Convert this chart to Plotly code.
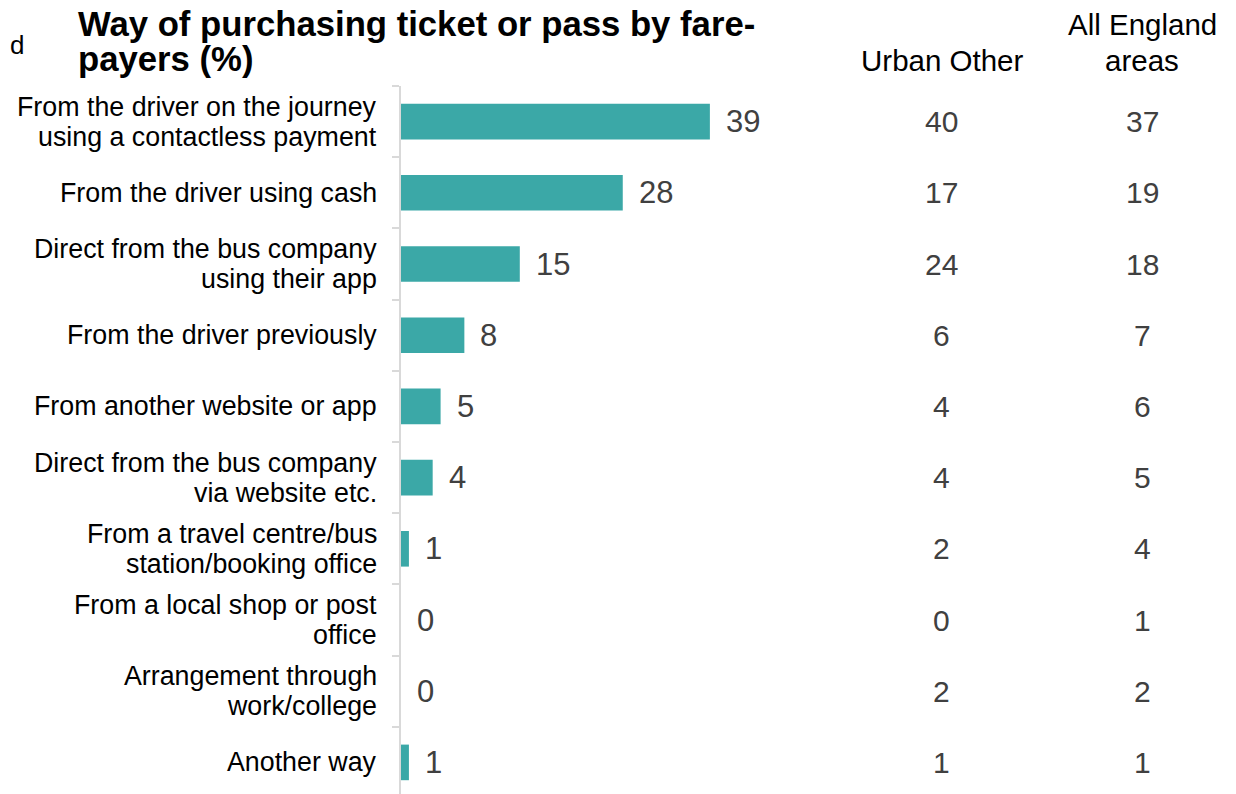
import plotly.graph_objects as go

categories = [
    "From the driver on the journey<br>using a contactless payment",
    "From the driver using cash",
    "Direct from the bus company<br>using their app",
    "From the driver previously",
    "From another website or app",
    "Direct from the bus company<br>via website etc.",
    "From a travel centre/bus<br>station/booking office",
    "From a local shop or post<br>office",
    "Arrangement through<br>work/college",
    "Another way",
]
fare_payers = [39, 28, 15, 8, 5, 4, 1, 0, 0, 1]
urban_other = [40, 17, 24, 6, 4, 4, 2, 0, 2, 1]
all_england = [37, 19, 18, 7, 6, 5, 4, 1, 2, 1]

title_lines = ["Way of purchasing ticket or pass by fare-", "payers (%)"]
col_headers = {"urban": ["Urban Other"], "england": ["All England", "areas"]}

OFF = 8  # page body margin
W, H = 1236 - OFF, 794 - OFF
FONT = "Liberation Sans, Arial, sans-serif"
TEAL = "#3BA8A7"
GRAY = "#404040"


def px(x):
    return (x - OFF) / W


def py(y):
    return 1 - (y - OFF) / H


plot_left, plot_right, plot_top = 401, 800, 86
px_per_unit = 7.92
row_h = 71.2

fig = go.Figure()
fig.add_trace(go.Bar(
    x=fare_payers, y=categories, orientation="h",
    marker=dict(color=TEAL, line=dict(width=0)),
    width=0.5, hoverinfo="x+y",
))

ann = []
# category labels, one line each
for cat in categories:
    lines = cat.split("<br>")
    n = len(lines)
    for j, ln in enumerate(lines):
        shift = (n - 1) / 2 * 30 - j * 30
        ann.append(dict(x=px(379), xref="paper", y=cat, yref="y", text=ln,
                        xanchor="right", yanchor="middle", showarrow=False,
                        yshift=shift, font=dict(family=FONT, size=26.8, color="#000000")))
# value labels
for cat, v in zip(categories, fare_payers):
    ann.append(dict(x=v, xref="x", y=cat, yref="y", text=str(v), xanchor="left",
                    yanchor="middle", showarrow=False, xshift=14,
                    font=dict(family=FONT, size=31, color=GRAY)))
for cat, v in zip(categories, urban_other):
    ann.append(dict(x=px(941), xref="paper", y=cat, yref="y", text=str(v),
                    xanchor="center", yanchor="middle", showarrow=False,
                    font=dict(family=FONT, size=30, color=GRAY)))
for cat, v in zip(categories, all_england):
    ann.append(dict(x=px(1142), xref="paper", y=cat, yref="y", text=str(v),
                    xanchor="center", yanchor="middle", showarrow=False,
                    font=dict(family=FONT, size=30, color=GRAY)))
# column headers
ann.append(dict(x=px(942), xref="paper", y=py(60), yref="paper",
                text=col_headers["urban"][0], xanchor="center", yanchor="middle",
                showarrow=False, font=dict(family=FONT, size=29.5, color="#000000")))
for j, ln in enumerate(col_headers["england"]):
    ann.append(dict(x=px(1142), xref="paper", y=py(25 + 35 * j), yref="paper",
                    text=ln, xanchor="center", yanchor="middle", showarrow=False,
                    font=dict(family=FONT, size=29.5, color="#000000")))
# title
for j, ln in enumerate(title_lines):
    ann.append(dict(x=px(76), xref="paper", y=py(24 + 35 * j), yref="paper",
                    text="<b>" + ln + "</b>", xanchor="left", yanchor="middle",
                    showarrow=False, font=dict(family=FONT, size=34.7, color="#000000")))
# partly hidden text at the left edge
ann.append(dict(x=0, xref="paper", y=py(45), yref="paper", text="d",
                xanchor="left", yanchor="middle", showarrow=False,
                font=dict(family=FONT, size=26, color="#000000")))

fig.update_layout(
    width=W, height=H,
    margin=dict(l=0, r=0, t=0, b=0),
    paper_bgcolor="white", plot_bgcolor="white",
    showlegend=False,
    annotations=ann,
    xaxis=dict(domain=[px(plot_left), px(plot_right)],
               range=[0, (plot_right - plot_left) / px_per_unit],
               showgrid=False, zeroline=False, showline=False,
               showticklabels=False, ticks=""),
    yaxis=dict(domain=[0, py(plot_top)],
               range=[-0.5 + (794 - plot_top) / row_h, -0.5],
               showgrid=False, zeroline=False, showline=True,
               linecolor="#D9D9D9", linewidth=2,
               ticks="outside", tickson="boundaries", ticklen=7,
               tickcolor="#D9D9D9", tickwidth=2, showticklabels=False),
)

fig.write_html("out.html")
